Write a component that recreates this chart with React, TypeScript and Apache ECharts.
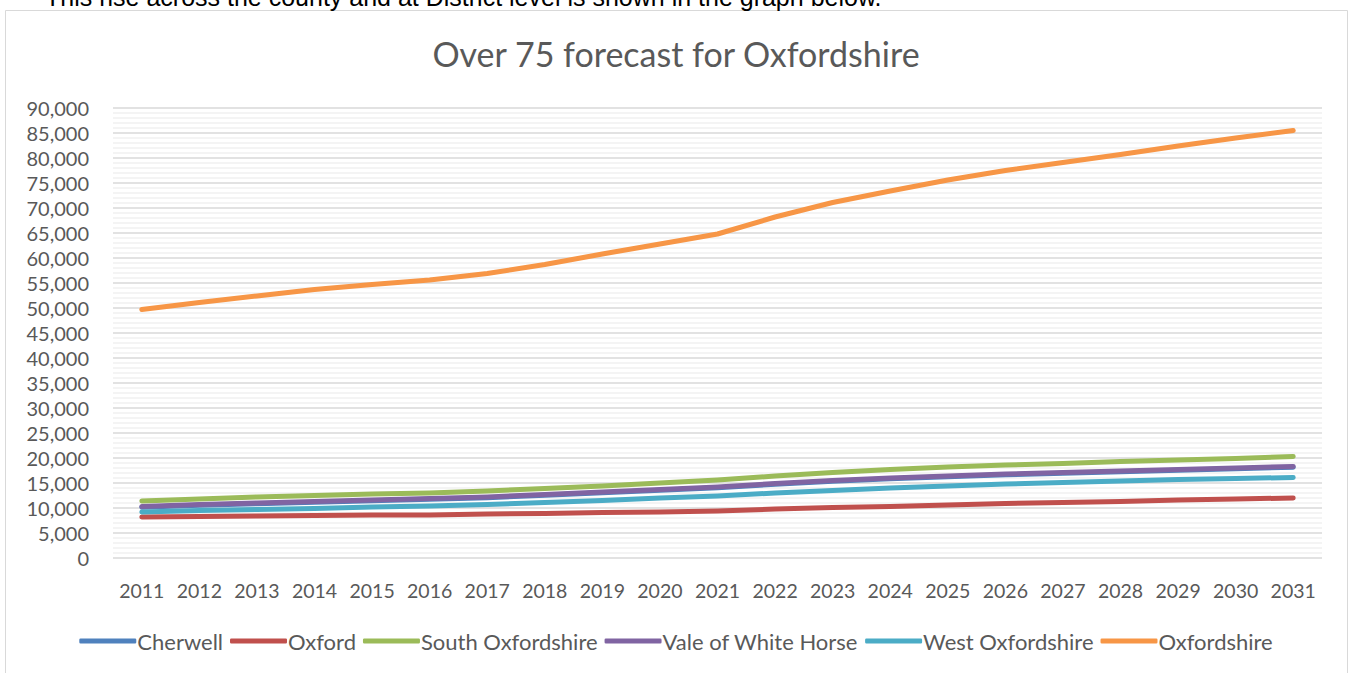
import React, { useEffect, useRef } from "react";
import * as echarts from "echarts";

const years = ["2011","2012","2013","2014","2015","2016","2017","2018","2019","2020","2021","2022","2023","2024","2025","2026","2027","2028","2029","2030","2031"];
const cherwell = [10150,10550,10850,11150,11450,11750,12050,12550,13050,13550,14050,14750,15350,15850,16250,16650,16950,17250,17550,17850,18150];
const oxford = [8200,8300,8400,8500,8600,8600,8800,8900,9100,9200,9400,9800,10100,10300,10600,10900,11100,11300,11600,11800,12000];
const southOx = [11400,11800,12200,12500,12800,13000,13400,13900,14400,15000,15600,16400,17100,17700,18200,18600,18900,19300,19600,19900,20300];
const vale = [10300,10700,11000,11300,11600,11900,12200,12700,13200,13700,14200,14900,15500,16000,16400,16800,17100,17400,17700,18000,18300];
const westOx = [9200,9500,9700,9900,10200,10400,10700,11100,11500,12000,12400,13000,13500,14000,14400,14800,15100,15400,15700,15900,16100];
const oxfordshire = [49700,51100,52400,53700,54700,55600,56900,58700,60800,62800,64800,68200,71100,73400,75600,77500,79100,80700,82400,84000,85500];

const seriesDefs = [
  { name: "Cherwell", data: cherwell, color: "#4F81BD" },
  { name: "Oxford", data: oxford, color: "#C0504D" },
  { name: "South Oxfordshire", data: southOx, color: "#9BBB59" },
  { name: "Vale of White Horse", data: vale, color: "#8064A2" },
  { name: "West Oxfordshire", data: westOx, color: "#4BACC6" },
  { name: "Oxfordshire", data: oxfordshire, color: "#F79646" },
];

const FONT = "Lato";

export default function App() {
  const ref = useRef<HTMLDivElement>(null);
  useEffect(() => {
    const chart = echarts.init(ref.current!, null, { renderer: "svg" });
    chart.setOption({
      animation: false,
      backgroundColor: "#ffffff",
      title: {
        text: "Over 75 forecast for Oxfordshire",
        left: "center",
        top: 31,
        textStyle: { fontFamily: FONT, fontSize: 34, fontWeight: "normal", color: "#595959" },
      },
      graphic: [
        {
          type: "text",
          left: 45,
          top: -16,
          style: {
            text: "This rise across the county and at District level is shown in the graph below.",
            font: "25px 'Liberation Sans', Arial, sans-serif",
            fill: "#000000",
          },
        },
        {
          type: "rect",
          shape: { x: 5.5, y: 10.5, width: 1342, height: 680 },
          style: { fill: "none", stroke: "#D9D9D9", lineWidth: 1 },
          z: -1,
        },
      ],
      legend: {
        bottom: 16,
        left: "center",
        itemWidth: 57,
        itemHeight: 5,
        itemGap: 7,
        icon: "roundRect",
        textStyle: { fontFamily: FONT, fontSize: 22, color: "#595959", padding: [0, 0, 0, -4] },
        data: seriesDefs.map((s) => s.name),
      },
      grid: { left: 113, right: 30, top: 108, bottom: 115, containLabel: false },
      xAxis: {
        type: "category",
        data: years,
        boundaryGap: true,
        axisLine: { show: false },
        axisTick: { show: false },
        axisLabel: { fontFamily: FONT, fontSize: 19.5, color: "#595959", margin: 22, interval: 0, hideOverlap: false },
      },
      yAxis: {
        type: "value",
        min: 0,
        max: 90000,
        interval: 5000,
        axisLine: { show: false },
        axisTick: { show: false },
        axisLabel: {
          fontFamily: FONT,
          fontSize: 20,
          color: "#595959",
          margin: 24,
          formatter: (v: number) => v.toLocaleString("en-US"),
        },
        splitLine: { show: true, lineStyle: { color: "#D9D9D9", width: 1.5 } },
        minorTick: { show: false, splitNumber: 5 },
        minorSplitLine: { show: true, lineStyle: { color: "#F0F0F0", width: 1.5 } },
      },
      series: seriesDefs.map((s) => ({
        name: s.name,
        type: "line",
        data: s.data,
        symbol: "none",
        smooth: false,
        lineStyle: { color: s.color, width: 5, cap: "round", join: "round" },
        itemStyle: { color: s.color },
      })),
    });
    return () => chart.dispose();
  }, []);
  return (
    <div
      ref={ref}
      style={{ position: "fixed", left: 0, top: 0, width: 1352, height: 673 }}
    />
  );
}
